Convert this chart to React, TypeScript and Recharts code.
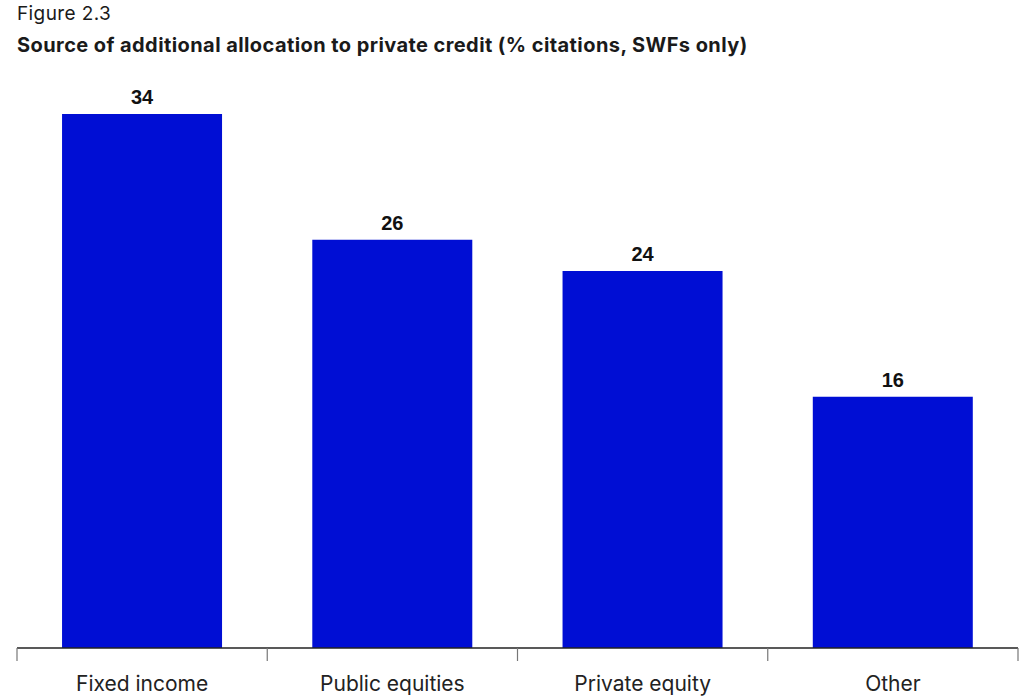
import React from "react"
import { BarChart, Bar, XAxis, YAxis, LabelList } from "recharts"

const categories = ["Fixed income", "Public equities", "Private equity", "Other"]
const citations = [34, 26, 24, 16]

const data = categories.map((name, i) => ({ name, value: citations[i] }))

const BLUE = "#000ed4"
const LEFT = 17
const RIGHT = 2
const CHART_W = 1020
const HALF_BAND = (CHART_W - LEFT - RIGHT) / categories.length / 2

function CategoryTick(props: any) {
  const { x, y, payload, index } = props
  const last = index === categories.length - 1
  return (
    <g>
      <line x1={x - HALF_BAND} x2={x - HALF_BAND} y1={y} y2={y + 13} stroke="#777" strokeWidth={1.2} />
      {last && <line x1={x + HALF_BAND} x2={x + HALF_BAND} y1={y} y2={y + 13} stroke="#777" strokeWidth={1.2} />}
      <text
        x={x}
        y={y + 43}
        textAnchor="middle"
        fill="#222"
        fontSize={21}
        fontFamily="Inter, sans-serif"
      >
        {payload.value}
      </text>
    </g>
  )
}

export default function App() {
  return (
    <div
      style={{
        position: "fixed",
        left: 0,
        top: 0,
        width: 1020,
        height: 696,
        background: "#fff",
        overflow: "hidden",
        fontFamily: "Inter, 'Noto Sans', sans-serif",
        color: "#1a1a1a",
      }}
    >
      <div style={{ position: "absolute", left: 17, top: 3, fontSize: 19, lineHeight: "22px", letterSpacing: 0.4 }}>
        Figure 2.3
      </div>
      <div style={{ position: "absolute", left: 17, top: 33, fontSize: 20, fontWeight: 700, lineHeight: "24px", letterSpacing: 0.42 }}>
        Source of additional allocation to private credit (% citations, SWFs only)
      </div>
      <div style={{ position: "absolute", left: 0, top: 0 }}>
        <BarChart
          width={CHART_W}
          height={696}
          data={data}
          margin={{ top: 114, right: RIGHT, bottom: 0, left: LEFT }}
          barCategoryGap="18%"
        >
          <XAxis
            dataKey="name"
            tickLine={false}
            tickSize={0}
            tickMargin={0}
            axisLine={{ stroke: "#222", strokeWidth: 1.3 }}
            tick={<CategoryTick />}
            height={48}
            interval={0}
          />
          <YAxis hide domain={[0, 34]} />
          <Bar dataKey="value" fill={BLUE} isAnimationActive={false}>
            <LabelList
              dataKey="value"
              position="top"
              offset={10}
              style={{ fill: "#111", fontSize: 20, fontWeight: 700, fontFamily: "'Liberation Sans', Arial, sans-serif" }}
            />
          </Bar>
        </BarChart>
      </div>
    </div>
  )
}
